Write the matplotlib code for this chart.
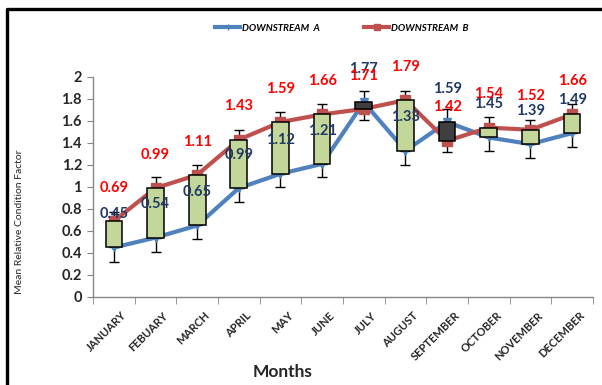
import numpy as np
import matplotlib
matplotlib.use('Agg')
import matplotlib.pyplot as plt
from matplotlib.lines import Line2D
from matplotlib.transforms import ScaledTranslation

# %%
# Data
months = ['JANUARY', 'FEBUARY', 'MARCH', 'APRIL', 'MAY', 'JUNE', 'JULY',
          'AUGUST', 'SEPTEMBER', 'OCTOBER', 'NOVEMBER', 'DECEMBER']
downstream_a = [0.45, 0.54, 0.65, 0.99, 1.12, 1.21, 1.77, 1.33, 1.59, 1.45, 1.39, 1.49]
downstream_b = [0.69, 0.99, 1.11, 1.43, 1.59, 1.66, 1.71, 1.79, 1.42, 1.54, 1.52, 1.66]
# whisker ends (lower for A, upper for B)
low_a = [0.32, 0.41, 0.53, 0.86, 1.00, 1.09, 1.61, 1.20, 1.32, 1.33, 1.26, 1.36]
high_b = [0.77, 1.09, 1.20, 1.52, 1.68, 1.75, 1.87, 1.87, 1.71, 1.64, 1.61, 1.75]

plt.rcParams['font.family'] = ['Lato', 'DejaVu Sans']

# %%
a = np.array(downstream_a)
b = np.array(downstream_b)
x = np.arange(len(months))

fig = plt.figure(figsize=(6.02, 3.85), dpi=100)
ax = fig.add_axes([0.1545, 0.2286, 0.8305, 0.5714])

blue = '#4F81BD'
red = '#C0504D'

# whiskers behind everything
ax.errorbar(x, a, yerr=[a - np.array(low_a), np.zeros_like(a)], fmt='none',
            ecolor='black', elinewidth=1, capsize=3.5, capthick=1, zorder=1)
ax.errorbar(x, b, yerr=[np.zeros_like(b), np.array(high_b) - b], fmt='none',
            ecolor='black', elinewidth=1, capsize=3.5, capthick=1, zorder=1)

ax.plot(x, a, color=blue, lw=3, marker='v', ms=6, mec=blue, zorder=2)
ax.plot(x, b, color=red, lw=3, marker='s', ms=7, mec=red, zorder=2)

# up/down bars between the two series
cols = ['#C4D79B' if bb >= aa else '#3F3F3F' for aa, bb in zip(a, b)]
lo = np.minimum(a, b)
hi = np.maximum(a, b)
ax.bar(x, hi - lo, bottom=lo, width=0.4, color=cols, edgecolor='black',
       linewidth=1.1, zorder=3)

# data labels
for xi, v in zip(x, a):
    ax.annotate(f'{v:.2f}', (xi, v), xytext=(0, 24), textcoords='offset points',
                ha='center', va='center', fontsize=10.5, fontweight='bold',
                color='#1F3864', zorder=5, annotation_clip=False)
for xi, v in zip(x, b):
    ax.annotate(f'{v:.2f}', (xi, v), xytext=(0, 24), textcoords='offset points',
                ha='center', va='center', fontsize=10.5, fontweight='bold',
                color='#FF0000', zorder=5, annotation_clip=False)

ax.set_xlim(-0.5, len(months) - 0.5)
ax.set_ylim(0, 2)
ax.set_yticks(np.arange(0, 2.01, 0.2))
ax.set_yticklabels(['0', '0.2', '0.4', '0.6', '0.8', '1', '1.2', '1.4', '1.6', '1.8', '2'])
ax.set_xticks(x)
ax.set_xticklabels(months, rotation=45, ha='right', va='center',
                   rotation_mode='anchor', fontsize=8, fontweight='bold', color='#262626')
ax.set_xticks(np.arange(-0.5, len(months)), minor=True)
ax.tick_params(axis='x', which='major', length=0, pad=12)
ax.tick_params(axis='x', which='minor', length=5, color='#868686', direction='out')
ax.tick_params(axis='y', length=4, color='#868686', labelsize=10.5, labelcolor='#262626', pad=4)
for lab in ax.get_yticklabels():
    lab.set_fontweight('bold')
off = ScaledTranslation(11 / 100, 0, fig.dpi_scale_trans)
for lab in ax.get_xticklabels():
    lab.set_transform(lab.get_transform() + off)

for s in ['top', 'right']:
    ax.spines[s].set_visible(False)
for s in ['left', 'bottom']:
    ax.spines[s].set_color('#868686')
    ax.spines[s].set_linewidth(1)

fig.text(0.47, 0.012, 'Months', ha='center', va='bottom', fontsize=12.5,
         fontweight='bold', color='#262626')
fig.text(0.032, 0.424, 'Mean Relative Condition Factor', rotation=90, ha='center',
         va='center', fontsize=7.5, color='#262626')

handles = [Line2D([], [], color=blue, lw=3, marker='|', ms=5, mec=blue),
           Line2D([], [], color=red, lw=3, marker='s', ms=5, mec=red)]
fig.legend(handles, ['DOWNSTREAM  A', 'DOWNSTREAM  B'], loc='center',
           bbox_to_anchor=(0.568, 0.927), ncol=2, frameon=False, handlelength=2.6,
           handletextpad=0.2, columnspacing=4.5,
           prop={'size': 7, 'style': 'italic', 'weight': 'bold'})

# outer frame (top and left edges visible in the crop)
fig.add_artist(Line2D([7 / 602, 7 / 602, 1], [0, 1 - 9 / 385, 1 - 9 / 385],
                      transform=fig.transFigure, color='black', lw=2.4))

fig.savefig('out.png', dpi=100)
